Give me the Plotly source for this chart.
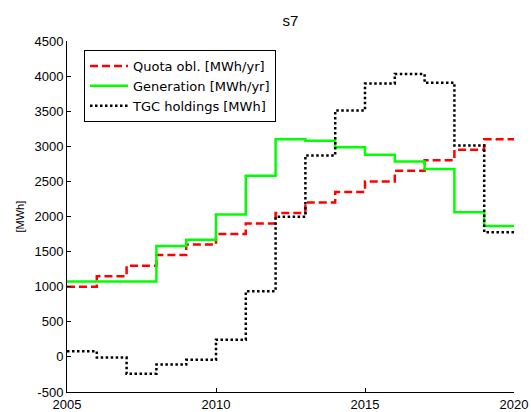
import plotly.graph_objects as go

years = list(range(2005, 2021))
quota = [1000, 1150, 1300, 1450, 1600, 1750, 1900, 2050, 2200, 2350, 2500, 2650, 2800, 2950, 3100]
generation = [1075, 1075, 1075, 1580, 1670, 2030, 2580, 3100, 3080, 2985, 2880, 2785, 2675, 2060, 1865]
tgc = [80, -10, -240, -110, -40, 245, 935, 1995, 2870, 3510, 3895, 4030, 3905, 3010, 1775]

names = ["Quota obl. [MWh/yr]", "Generation [MWh/yr]", "TGC holdings [MWh]"]
yticks = [-500, 0, 500, 1000, 1500, 2000, 2500, 3000, 3500, 4000, 4500]
xticks = [2005, 2010, 2015, 2020]
ylabel = "[MWh]"
title = "s7"

def ext(v):
    return v + [v[-1]]

fig = go.Figure()
fig.add_trace(go.Scatter(x=years, y=ext(quota), mode="lines", line_shape="hv", name=names[0],
                         line=dict(color="#ff0000", width=2.5, dash="8px,4px")))
fig.add_trace(go.Scatter(x=years, y=ext(generation), mode="lines", line_shape="hv", name=names[1],
                         line=dict(color="#00ff00", width=2.5)))
fig.add_trace(go.Scatter(x=years, y=ext(tgc), mode="lines", line_shape="hv", name=names[2],
                         line=dict(color="#000000", width=2.5, dash="2.5px,2.5px")))

font = "Liberation Sans, Arial, Helvetica, sans-serif"
W, H = 531, 412
L, R, T, B = 67, 17, 41, 20
PW, PH = W - L - R, H - T - B
fig.update_layout(
    width=W, height=H,
    margin=dict(l=L, r=R, t=T, b=B, autoexpand=False),
    paper_bgcolor="white", plot_bgcolor="white",
    font=dict(family=font, size=13, color="black"),
    title=dict(text=title, x=(L + PW / 2) / W, xanchor="center",
               y=1 - 21 / H, yanchor="middle", font=dict(size=15, family=font)),
    showlegend=True,
    legend=dict(x=(84 - L) / PW, y=(H - B - 50) / PH, xanchor="left", yanchor="top",
                bgcolor="white", bordercolor="black", borderwidth=1,
                font=dict(size=13, family="DejaVu Sans, Verdana, sans-serif"),
                tracegroupgap=0, itemwidth=38),
    xaxis=dict(range=[2005, 2020], tickvals=xticks, ticktext=[str(t) for t in xticks],
               showline=True, linecolor="black", linewidth=1, ticks="inside", ticklen=4,
               tickcolor="black", showgrid=False, zeroline=False, mirror=False,
               automargin=False, ticklabelstandoff=0),
    yaxis=dict(range=[-500, 4500], tickvals=yticks, ticktext=[str(t) for t in yticks],
               showline=True, linecolor="black", linewidth=1, ticks="inside", ticklen=4,
               tickcolor="black", showgrid=False, zeroline=False, mirror=False,
               automargin=False),
    annotations=[dict(text=ylabel, xref="paper", yref="paper", x=(19 - L) / PW, y=0.5,
                      xanchor="center", yanchor="middle", textangle=-90, showarrow=False,
                      font=dict(size=11, family=font))],
)

fig.write_html("out.html", config={"displayModeBar": False},
               post_script="document.body.style.margin='0';document.body.style.overflow='hidden';")
